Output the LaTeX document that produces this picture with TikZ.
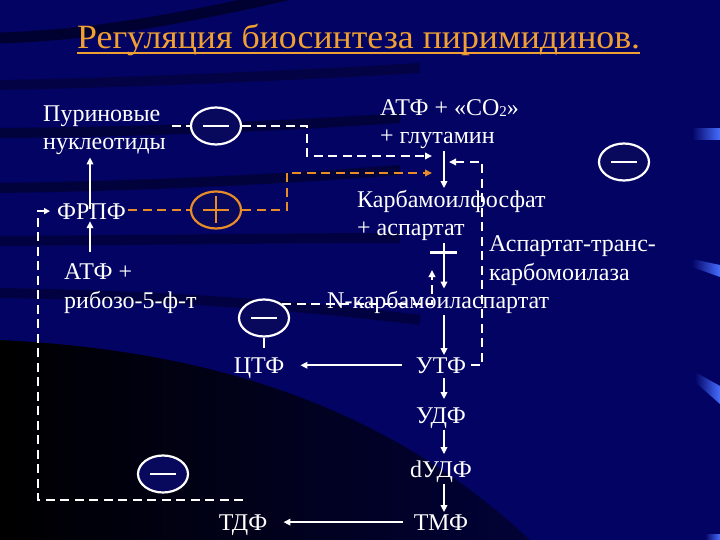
\documentclass[tikz,border=0pt]{standalone}
\usepackage{fontspec}
\setmainfont{Liberation Serif}
\usepackage{graphicx}
\usetikzlibrary{arrows.meta,shapes.geometric,calc}
\definecolor{bg}{RGB}{3,3,100}
\definecolor{titleor}{RGB}{240,160,50}
\definecolor{dashor}{RGB}{232,140,40}
\definecolor{circfill}{RGB}{8,8,92}
\definecolor{edgeblue}{RGB}{70,110,255}
\begin{document}
\begin{tikzpicture}[x=1pt,y=-1pt,
  txt/.style={text=white,font=\fontsize{24}{28.5}\selectfont,inner sep=2pt,align=left},
  arr/.style={white,line width=2.4pt,-{Triangle[length=7pt,width=6.5pt]}},
  wline/.style={white,line width=2.4pt},
  wdash/.style={white,line width=2.4pt,dash pattern=on 9pt off 5.5pt},
  odash/.style={dashor,line width=2.4pt,dash pattern=on 9pt off 5.5pt},
  sign/.style={ellipse,minimum width=50pt,minimum height=37pt,inner sep=0pt,line width=2.2pt,fill=circfill},
  minus/.style={sign,draw=white,path picture={\draw[white,line width=2.6pt] ([xshift=-13pt]path picture bounding box.center) -- ([xshift=13pt]path picture bounding box.center);}},
  plus/.style={sign,draw=dashor,path picture={\draw[dashor,line width=2.6pt] ([xshift=-13pt]path picture bounding box.center) -- ([xshift=13pt]path picture bounding box.center) ([yshift=-13.5pt]path picture bounding box.center) -- ([yshift=13.5pt]path picture bounding box.center);}}
]
\useasboundingbox (0,0) rectangle (720,540);
% background
\fill[bg] (0,0) rectangle (720,540);
\shade[left color=black, right color=bg!55!black] (0,340) .. controls (200,350) and (380,400) .. (530,540) -- (0,540) -- cycle;
\draw[black,opacity=0.5,line width=11pt] (0,38) .. controls (100,35) and (200,15) .. (300,-8);
\draw[black,opacity=0.3,line width=10pt] (0,85) .. controls (150,82) and (300,75) .. (420,68);
\draw[black,opacity=0.4,line width=10pt] (0,133) .. controls (150,132) and (300,125) .. (400,118);
\draw[black,opacity=0.4,line width=10pt] (0,188) .. controls (150,186) and (300,178) .. (400,170);
\draw[black,opacity=0.35,line width=10pt] (0,241) .. controls (150,240) and (300,238) .. (400,238);
\draw[black,opacity=0.35,line width=10pt] (0,293) .. controls (150,295) and (300,305) .. (420,320);
\shade[left color=bg, right color=edgeblue] (692,129) rectangle (720,140);
\shade[left color=bg, right color=edgeblue] (692,259) -- (720,265) -- (720,277) -- (692,267) -- cycle;
\shade[left color=bg, right color=edgeblue] (695,372) -- (720,386) -- (720,404) -- (695,382) -- cycle;
\shade[left color=bg, right color=edgeblue] (705,534) rectangle (720,540);

% title
\node[text=titleor,font=\fontsize{34}{34}\selectfont,anchor=base west,inner sep=0pt] (title) at (77,49) {\resizebox{563pt}{\height}{Регуляция биосинтеза пиримидинов.}};
\draw[titleor,line width=1.6pt] ($(title.base west)+(0,4)$) -- ($(title.base east)+(0,4)$);

% text nodes (multi-line: anchor base = last line)
\node[txt,anchor=base west] (pur) at (41,150) {Пуриновые\\нуклеотиды};
\node[txt,anchor=base west] (frpf) at (55,219) {ФРПФ};
\node[txt,anchor=base west] (atfr) at (62,308) {АТФ +\\рибозо-5-ф-т};
\node[txt,anchor=base west] (atfco) at (378,144) {АТФ + «СО\raisebox{-1pt}{\fontsize{15}{15}\selectfont 2}»\\+ глутамин};
\node[txt,anchor=base west] (karb) at (355,236) {Карбамоилфосфат\\+ аспартат};
\node[txt,anchor=base west] (asp) at (487,280) {Аспартат-транс-\\карбомоилаза};
\node[txt,anchor=base west] (nkarb) at (325,308) {N-карбамоиласпартат};
\node[txt,anchor=base] (ctf) at (259,373) {ЦТФ};
\node[txt,anchor=base] (utf) at (441,373) {УТФ};
\node[txt,anchor=base] (udf) at (441,423) {УДФ};
\node[txt,anchor=base] (dudf) at (441,477) {dУДФ};
\node[txt,anchor=base] (tmf) at (441,530) {ТМФ};
\node[txt,anchor=base] (tdf) at (243,530) {ТДФ};

% signs
\node[minus] (m1) at (216,126) {};
\node[plus] (p1) at (216,210) {};
\node[minus] (m2) at (264,318) {};
\node[minus] (m3) at (163,474) {};
\node[minus] (m4) at (624,162) {};

% helper coordinates
\coordinate (colx) at (444,0);
\coordinate (ax) at (90,0);
\coordinate (lx) at (38,0);
\coordinate (j1) at (307,156);
\coordinate (t1) at (432,156);
\coordinate (j2) at (287,173);
\coordinate (t2) at (432,173);
\coordinate (j3) at (482,162);
\coordinate (t3) at (449,162);
\coordinate (j4) at (432,270);

% connectors
\draw[wdash] ($(m1.west -| pur.east)+(4,0)$) -- (m1.west);
\draw[wdash,-{Triangle[length=7pt,width=6.5pt]}] (m1.east) -| (j1) -- (t1);
\draw[odash] (p1.west -| frpf.east) -- (p1.west);
\draw[odash,-{Triangle[length=7pt,width=6.5pt]}] (p1.east) -| (j2) -- (t2);
\draw[arr] (atfco.south -| colx) -- (karb.north -| colx);
\draw[wdash,-{Triangle[length=7pt,width=6.5pt]},shorten <=3pt] (utf.east) -| (j3) -- (t3);
\draw[arr] (karb.south -| colx) -- (nkarb.north -| colx);
\draw[wline] ($(karb.south -| colx)+(-14,9)$) -- ($(karb.south -| colx)+(13,9)$);
\draw[wdash,-{Triangle[length=7pt,width=6.5pt]}] (m2.north east) -| (j4);
\draw[wline,shorten >=7pt] (m2.south) -- (m2.south |- ctf.north);
\draw[arr,shorten <=12pt,shorten >=14pt] (utf.west) -- (utf.west -| ctf.east);
\draw[arr] (nkarb.south -| colx) -- (utf.north -| colx);
\draw[arr,shorten <=3pt,shorten >=6pt] (utf.south -| colx) -- (udf.north -| colx);
\draw[arr,shorten >=4pt] (udf.south -| colx) -- (dudf.north -| colx);
\draw[arr] (dudf.south -| colx) -- (tmf.north -| colx);
\draw[arr,shorten <=9pt,shorten >=14pt] (tmf.west) -- (tmf.west -| tdf.east);
\draw[wdash,-{Triangle[length=6pt,width=6pt]},shorten >=5pt] ($(tdf.north)+(0,-12)$) -| (frpf.west -| lx) -- (frpf.west);
\draw[arr,shorten <=9pt] (atfr.north -| ax) -- (frpf.south -| ax);
\draw[arr,shorten <=-8pt] (frpf.north -| ax) -- (pur.south -| ax);
\end{tikzpicture}
\end{document}
